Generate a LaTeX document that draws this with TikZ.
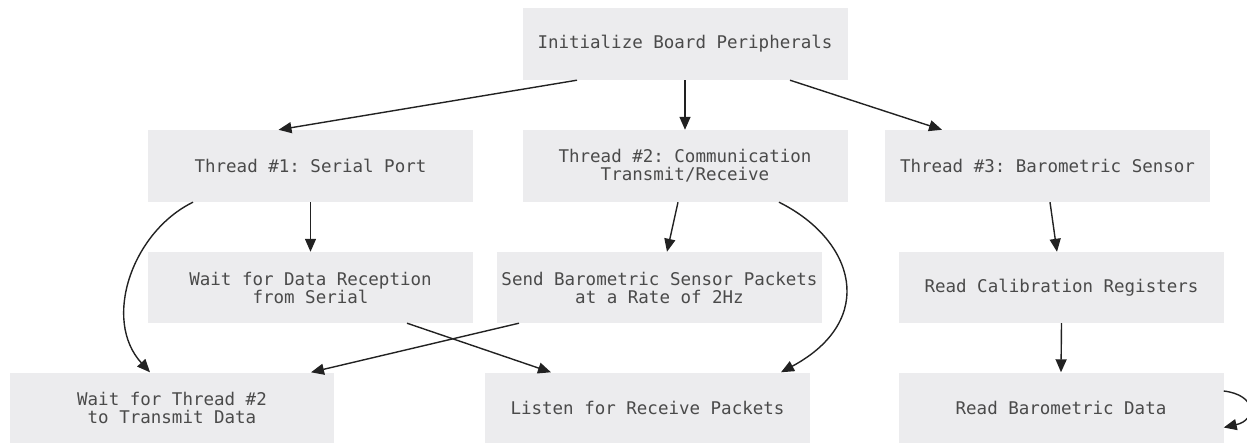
\documentclass[tikz,border=0pt]{standalone}
\usepackage{fontspec}
\setmonofont{DejaVu Sans Mono}
\usetikzlibrary{arrows.meta}
\definecolor{boxfill}{HTML}{ECECEE}
\definecolor{boxtext}{HTML}{4A4A4A}
\definecolor{edge}{HTML}{222222}
\tikzset{
  stepbox/.style={rectangle, fill=boxfill, draw=none, minimum width=325pt,
    minimum height=71pt, inner sep=0pt, align=center, text=boxtext,
    font=\ttfamily\fontsize{17.5}{18}\selectfont},
  flow/.style={draw=edge, line width=1.4pt,
    -{Triangle[length=13pt,width=11pt]}}
}
\begin{document}
\begin{tikzpicture}[x=1pt,y=-1pt]
\useasboundingbox (0,0) rectangle (1247,443);

% boxes
\node[stepbox, minimum height=72pt] (init) at (685,44) {Initialize Board Peripherals};
\node[stepbox, minimum height=72pt] (t1) at (310.5,166) {Thread \#1: Serial Port};
\node[stepbox, minimum height=72pt] (t2) at (685,166) {Thread \#2: Communication\\Transmit/Receive};
\node[stepbox, minimum height=72pt] (t3) at (1047.5,166) {Thread \#3: Barometric Sensor};
\node[stepbox] (wd) at (310.5,287.5) {Wait for Data Reception\\from Serial};
\node[stepbox] (sb) at (659.5,287.5) {Send Barometric Sensor Packets\\at a Rate of 2Hz};
\node[stepbox] (rc) at (1061.5,287.5) {Read Calibration Registers};
\node[stepbox, minimum height=70pt, minimum width=324pt] (wt) at (172,407.5) {Wait for Thread \#2\\to Transmit Data};
\node[stepbox, minimum height=70pt] (li) at (647.5,407.5) {Listen for Receive Packets};
\node[stepbox, minimum height=70pt] (rb) at (1061,407.5) {Read Barometric Data};

% connectors
\draw[flow] ([xshift=-108pt]init.south) -- ([xshift=-32pt]t1.north);
\draw[flow] (init.south) -- (t2.north);
\draw[flow] ([xshift=105pt]init.south) -- ([xshift=-105.5pt]t3.north);

\draw[flow] (t1.south) -- (wd.north);
\draw[flow] ([xshift=-117.5pt]t1.south) .. controls (132,232) and (102,320) .. ([xshift=-22pt]wt.north);

\draw[flow] ([xshift=-7pt]t2.south) -- ([xshift=7.5pt]sb.north);
\draw[flow] ([xshift=94pt]t2.south) .. controls (855,240) and (878,320) .. ([xshift=133.5pt]li.north);

\draw[flow] ([xshift=96.5pt]wd.south) -- ([xshift=-96.5pt]li.north);
\draw[flow] ([xshift=-140.5pt]sb.south) -- ([xshift=139pt]wt.north);

\draw[flow] ([xshift=2.5pt]t3.south) -- ([xshift=-4.5pt]rc.north);
\draw[flow] (rc.south) -- (rb.north);

% self loop on the last step
\draw[flow] ([yshift=16.5pt]rb.east) .. controls (1257,395) and (1257,420) .. ([yshift=-20pt]rb.east);
\end{tikzpicture}
\end{document}
